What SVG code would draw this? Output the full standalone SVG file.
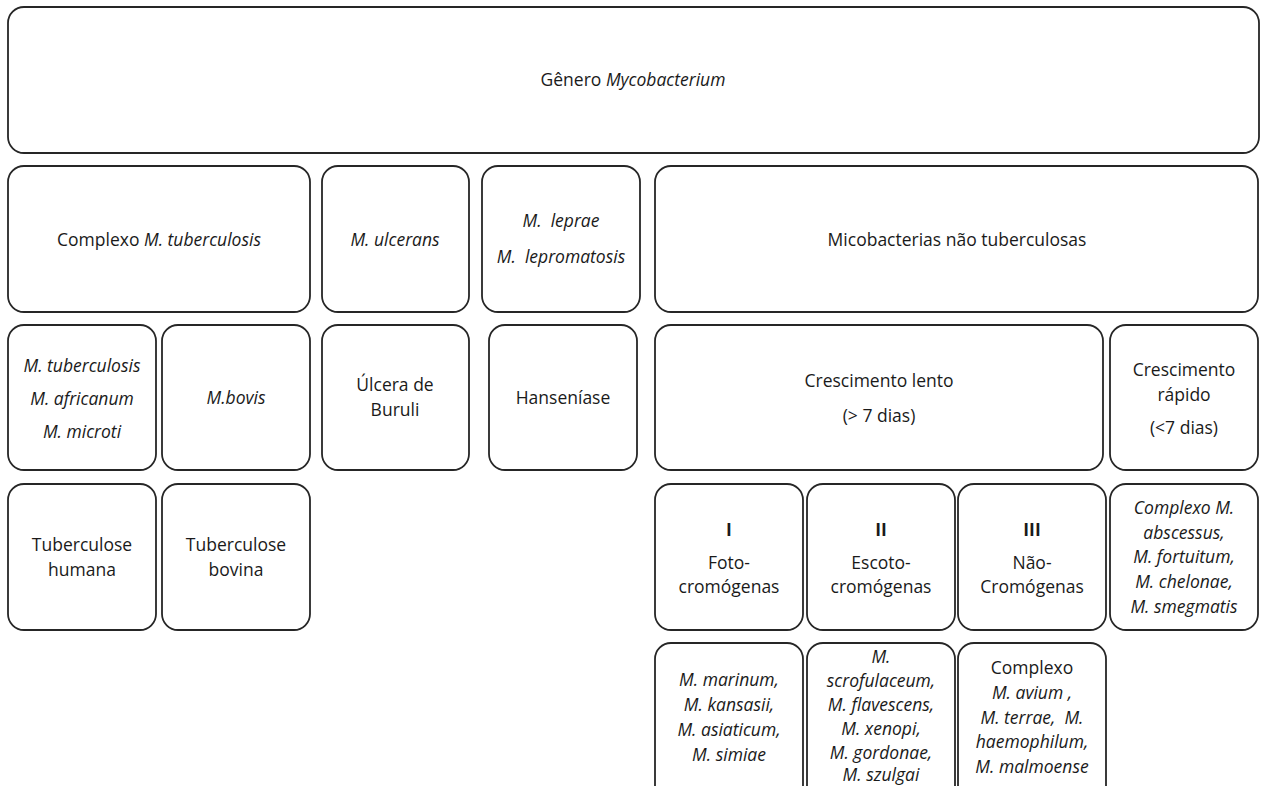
<svg xmlns="http://www.w3.org/2000/svg" width="1262" height="786" viewBox="0 0 1262 786">
<style>
rect.b{fill:#fff;stroke:#262626;stroke-width:1.8}
text{font-family:"Open Sans","Liberation Sans",sans-serif;font-size:17.5px;fill:#1a1a1a;text-anchor:middle}
.i{font-style:italic}
.bd{font-weight:bold}
</style>
<rect width="1262" height="786" fill="#fff"/>
<g id="connectors"/>
<g id="genero"><rect class="b" x="8" y="7" width="1251" height="146" rx="16"/><text x="633" y="86">Gênero <tspan class="i">Mycobacterium</tspan></text></g>
<g id="complexo-tb"><rect class="b" x="8" y="166" width="302" height="146" rx="16"/><text x="159" y="246">Complexo <tspan class="i">M. tuberculosis</tspan></text></g>
<g id="ulcerans"><rect class="b" x="322" y="166" width="147" height="146" rx="16"/><text class="i" x="395" y="246">M. ulcerans</text></g>
<g id="leprae"><rect class="b" x="482" y="166" width="158" height="146" rx="16"/><text class="i" x="561" y="227" xml:space="preserve">M.  leprae</text><text class="i" x="561" y="263" xml:space="preserve">M.  lepromatosis</text></g>
<g id="mnt"><rect class="b" x="655" y="166" width="603" height="146" rx="16"/><text x="957" y="246">Micobacterias não tuberculosas</text></g>
<g id="especies-tb"><rect class="b" x="8" y="325" width="148" height="145" rx="16"/><text class="i" x="82" y="372">M. tuberculosis</text><text class="i" x="82" y="405">M. africanum</text><text class="i" x="82" y="438">M. microti</text></g>
<g id="mbovis"><rect class="b" x="162" y="325" width="148" height="145" rx="16"/><text class="i" x="236" y="404">M.bovis</text></g>
<g id="buruli"><rect class="b" x="322" y="325" width="147" height="145" rx="16"/><text x="395" y="391">Úlcera de</text><text x="395" y="416">Buruli</text></g>
<g id="hanseniase"><rect class="b" x="489" y="325" width="148" height="145" rx="16"/><text x="563" y="404">Hanseníase</text></g>
<g id="lento"><rect class="b" x="655" y="325" width="448" height="145" rx="16"/><text x="879" y="387">Crescimento lento</text><text x="879" y="422">(&gt; 7 dias)</text></g>
<g id="rapido"><rect class="b" x="1110" y="325" width="148" height="145" rx="16"/><text x="1184" y="376">Crescimento</text><text x="1184" y="401">rápido</text><text x="1184" y="434">(&lt;7 dias)</text></g>
<g id="tb-humana"><rect class="b" x="8" y="484" width="148" height="146" rx="16"/><text x="82" y="551">Tuberculose</text><text x="82" y="576">humana</text></g>
<g id="tb-bovina"><rect class="b" x="162" y="484" width="148" height="146" rx="16"/><text x="236" y="551">Tuberculose</text><text x="236" y="576">bovina</text></g>
<g id="grupo-i"><rect class="b" x="655" y="484" width="148" height="146" rx="16"/><text class="bd" x="729" y="536">I</text><text x="729" y="569">Foto-</text><text x="729" y="593">cromógenas</text></g>
<g id="grupo-ii"><rect class="b" x="807" y="484" width="148" height="146" rx="16"/><text class="bd" x="881" y="536">II</text><text x="881" y="569">Escoto-</text><text x="881" y="593">cromógenas</text></g>
<g id="grupo-iii"><rect class="b" x="958" y="484" width="148" height="146" rx="16"/><text class="bd" x="1032" y="536">III</text><text x="1032" y="569">Não-</text><text x="1032" y="593">Cromógenas</text></g>
<g id="rapido-especies"><rect class="b" x="1110" y="484" width="148" height="146" rx="16"/><text class="i" x="1184" y="514">Complexo M.</text><text class="i" x="1184" y="539">abscessus,</text><text class="i" x="1184" y="563">M. fortuitum,</text><text class="i" x="1184" y="588">M. chelonae,</text><text class="i" x="1184" y="613">M. smegmatis</text></g>
<g id="especies-i"><rect class="b" x="655" y="643" width="148" height="170" rx="16"/><text class="i" x="729" y="686">M. marinum,</text><text class="i" x="729" y="711">M. kansasii,</text><text class="i" x="729" y="736">M. asiaticum,</text><text class="i" x="729" y="761">M. simiae</text></g>
<g id="especies-ii"><rect class="b" x="807" y="643" width="148" height="170" rx="16"/><text class="i" x="881" y="663">M.</text><text class="i" x="881" y="687">scrofulaceum,</text><text class="i" x="881" y="711">M. flavescens,</text><text class="i" x="881" y="735">M. xenopi,</text><text class="i" x="881" y="759">M. gordonae,</text><text class="i" x="881" y="781">M. szulgai</text></g>
<g id="especies-iii"><rect class="b" x="958" y="643" width="148" height="170" rx="16"/><text x="1032" y="674">Complexo</text><text class="i" x="1032" y="699">M. avium ,</text><text class="i" x="1032" y="724" xml:space="preserve">M. terrae,  M.</text><text class="i" x="1032" y="748">haemophilum,</text><text class="i" x="1032" y="773">M. malmoense</text></g>
</svg>
